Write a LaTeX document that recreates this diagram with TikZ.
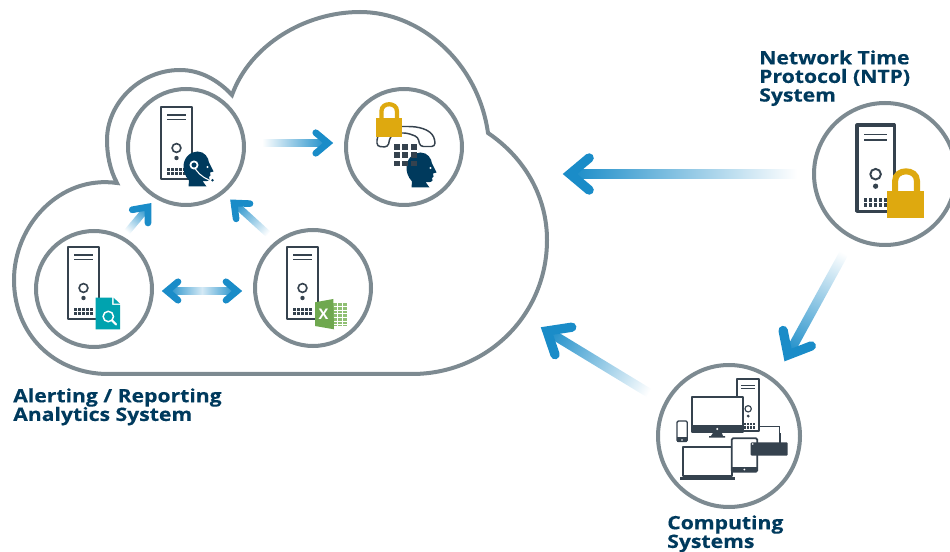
\documentclass[tikz,border=0pt]{standalone}
\usepackage{fontspec}
\setmainfont{Open Sans}
\newfontfamily\capfont[FakeStretch=1.15,BoldFeatures={FakeBold=0.3}]{Open Sans}
\usetikzlibrary{calc}
\definecolor{ringc}{HTML}{7D8A91}
\definecolor{slate}{HTML}{35424E}
\definecolor{navy}{HTML}{003A5D}
\definecolor{gold}{HTML}{DEA90F}
\definecolor{teal1}{HTML}{00A3AF}
\definecolor{xgreen}{HTML}{6FA84F}
\definecolor{xlight}{HTML}{8FBF72}
\definecolor{flow}{HTML}{1A8CC8}
\definecolor{flowpale}{HTML}{D4E9F5}
\tikzset{
  x=0.75pt,y=-0.75pt,
  ring/.style={circle,draw=ringc,line width=3pt,fill=white,minimum size=87pt,inner sep=0pt},
  bigring/.style={ring,minimum size=106.5pt},
  caption/.style={anchor=north west,inner sep=0pt,align=left,text=navy,font=\capfont\bfseries\fontsize{13.8}{14}\selectfont},
  barb/.style={draw=flow,line cap=round,line join=miter,line width=#1},
  dev/.style={draw=slate,fill=white,line join=round},
}
% shaded shaft between two named points; #3 half width in pt, #4 and #5 shading colours
\newcommand\flowshaft[5]{%
  \path let \p1=($(#2)-(#1)$),\n1={atan2(\y1,\x1)},\n2={veclen(\x1,\y1)} in
    \pgfextra{\xdef\fang{\n1}\xdef\flen{\n2}};
  \shade[transform canvas={shift={($(#1)!.5!(#2)$)},rotate=\fang},left color=#4,right color=#5]
    ({-0.5*\flen},{-#3}) rectangle ({0.5*\flen},{#3});
}
% gradient arrow: a, b, half width, head length px, line width
\newcommand\flowarrow[5]{%
  \flowshaft{#1}{#2}{#3}{white}{flow}
  \draw[barb=#5] ($(#2)!#4*0.75pt!40:(#1)$) -- (#2) -- ($(#2)!#4*0.75pt!-40:(#1)$);
}
\newcommand\serverat[3]{%
\begin{scope}[shift={(#1,#2)},scale=#3]
  \draw[dev,line width=#3*1.9pt] (0,0) rectangle (31,72);
  \draw[slate,line width=#3*1.1pt] (6,8) -- (25,8) (6,12.5) -- (25,12.5);
  \draw[slate,line width=#3*1.2pt] (15.5,41) circle (4.4);
  \fill[slate] (15.5,51) circle (2.2);
  \foreach \i in {0,...,4}\foreach \j in {0,1}{\fill[slate] (5.5+\i*4.2,61+\j*4.4) rectangle +(3.1,3.1);}
\end{scope}}
\newcommand\padlock[3]{%
\begin{scope}[shift={(#1,#2)},scale=#3]
  \draw[gold,line width=#3*3.2pt] (5.5,19) -- (5.5,7) .. controls (5.5,-2) and (20.9,-2) .. (20.9,7) -- (20.9,19);
  \fill[gold] (0,14) rectangle (26,33);
\end{scope}}
\newcommand\headat[2]{%
\begin{scope}[shift={(#1,#2)}]
  \fill[navy] (5,35) -- (5.5,29) .. controls (1,24) and (0,19) .. (0,15) .. controls (0,6) and (7,0) .. (14,0)
    .. controls (21,0) and (25,6) .. (25.5,11) -- (30,20) -- (26.5,21) -- (27,24) -- (25.5,25.5) -- (26,28)
    .. controls (25,30) and (21,30) .. (19,29.5) -- (23,35) -- cycle;
  \fill[white] (24,15.5) circle (1.1);
\end{scope}}
\begin{document}
\begin{tikzpicture}
\useasboundingbox (0,0) rectangle (950,552);
% cloud
\draw[ringc,line width=3pt,line join=miter,miter limit=10]
  (117,183) .. controls (60,175) and (14,225) .. (14,280)
  .. controls (14,335) and (55,374) .. (108,374) -- (412,374)
  .. controls (487,374) and (547,315) .. (547,240)
  .. controls (547,197) and (525,158) .. (488,133)
  .. controls (478,62) and (420,12) .. (360,12)
  .. controls (305,12) and (250,45) .. (232,95)
  .. controls (218,80) and (200,70) .. (180,70)
  .. controls (140,70) and (107,103) .. (107,140)
  .. controls (107,155) and (110,170) .. (117,183) -- cycle;
% rings
\node[ring] (agent) at (186,147) {};
\node[ring] (phone) at (404,147) {};
\node[ring] (search) at (94,289) {};
\node[ring] (excel) at (313,288) {};
\node[bigring] (ntp) at (885,174) {};
\node[bigring] (comp) at (729,436) {};
% arrow ends
\coordinate (a1) at (262,143); \coordinate (a2) at (328,143);
\coordinate (b1) at (127,232); \coordinate (b2) at (148,207);
\coordinate (c1) at (268,234); \coordinate (c2) at (234,203);
\coordinate (d1) at (797,174); \coordinate (d2) at (570,174);
\coordinate (e1) at (844,253); \coordinate (e2) at (788,355);
\coordinate (f1) at (649,393); \coordinate (f2) at (547,331);
\coordinate (g1) at (167,291); \coordinate (g2) at (237,291);
\flowarrow{a1}{a2}{2.6pt}{16}{5pt}
\flowarrow{b1}{b2}{2.6pt}{16}{5pt}
\flowarrow{c1}{c2}{2.6pt}{16}{5pt}
\flowarrow{d1}{d2}{3.5pt}{25}{7pt}
\flowarrow{e1}{e2}{3.5pt}{25}{7pt}
\flowarrow{f1}{f2}{3.5pt}{25}{7pt}
% double arrow
\shade[left color=flow,right color=flow,middle color=flowpale] (g1) ++(0,-3.6) rectangle ($(g2)+(0,3.6)$);
\draw[barb=5pt] ($(g1)!14.4*0.75pt!40:(g2)$) -- (g1) -- ($(g1)!14.4*0.75pt!-40:(g2)$);
\draw[barb=5pt] ($(g2)!14.4*0.75pt!40:(g1)$) -- (g2) -- ($(g2)!14.4*0.75pt!-40:(g1)$);
% agent
\serverat{161}{107}{1}
\headat{183.5}{151.5}
\draw[white,line width=0.8pt] (193.5,165) .. controls (196,172) and (202,177) .. (209,180);
\draw[white,line width=1.3pt,fill=navy] (194,165) circle (3.6);
\fill[navy] (212.5,180.3) circle (1.4);
% phone
\draw[slate,line width=1.1pt,line join=round,rounded corners=2.5pt]
  (390,137) -- (388,147) -- (377,146.5) -- (377,137) .. controls (384,128) and (395,126.5) .. (405,126.5)
  .. controls (418,126.5) and (430,129) .. (435,140) -- (435,146.5) -- (420,146.5) -- (418,137) -- (407,133) -- (395,133) -- cycle;
\padlock{376}{104}{1}
\headat{406.5}{152.5}
\foreach \i in {0,1,2}\foreach \j in {0,1,2}{\fill[slate] (394+\i*8.4,144+\j*8.4) rectangle +(5.7,5.7);}
% search doc
\serverat{68}{247}{1}
\fill[teal1] (95.7,297.7) -- (112,297.7) -- (112,305) -- (120,305) -- (120,329.5) -- (95.7,329.5) -- cycle;
\fill[teal1] (113.5,297.7) -- (120,303.7) -- (113.5,303.7) -- cycle;
\draw[white,line width=1.1pt] (108.3,316.5) circle (5.2);
\draw[white,line width=1.6pt,line cap=round] (112.2,320.5) -- (116,324.5);
% excel
\serverat{287}{247}{1}
\fill[xlight] (333,302.7) rectangle (346.7,326);
\draw[white,line width=.5pt] (337.5,302.7) -- (337.5,326) (342,302.7) -- (342,326);
\foreach \k in {0,...,5}{\draw[white,line width=.5pt] (334,306.5+\k*3.6) -- (346.7,306.5+\k*3.6);}
\fill[xgreen] (315,302.3) -- (333.3,299) -- (334,329.3) -- (315,326) -- cycle;
\node[text=white,inner sep=0pt,font=\bfseries\fontsize{11}{11}\selectfont] (xmark) at (323.5,314) {X};
% ntp
\serverat{857}{125}{1.2}
\padlock{887.3}{171}{1.42}
% computing systems
\serverat{737}{379.3}{0.72}
\draw[dev,line width=1.4pt] (691.7,397.3) rectangle (743.3,431.7);
\fill[slate] (691,425) rectangle (744,432.4);
\fill[white] (717.3,429) circle (1.1);
\fill[slate] (713.5,432) -- (721.5,432) -- (723,436) -- (725,436) -- (725,437.5) -- (709,437.5) -- (709,436) -- (711,436) -- cycle;
\draw[dev,line width=1pt,rounded corners=1pt] (677,421) rectangle (687.3,441.5);
\fill[slate] (677,437) rectangle (687.3,441.5);
\fill[white] (682,440) circle (.8);
\draw[dev,line width=1.3pt] (682.7,447.3) rectangle (732.3,476);
\fill[slate] (680,477) rectangle (735,479.5);
\draw[dev,line width=1.4pt,rounded corners=1pt] (731.7,438.3) rectangle (757.3,471.7);
\fill[slate] (731.7,467) rectangle (757.3,471.7);
\fill[white] (744.3,469.5) circle (1);
\draw[slate,line width=.6pt] (759.3,426.7) -- (779.3,426.7) -- (779.3,443);
\draw[slate,line width=1pt] (780.7,433) -- (780.7,443);
\fill[slate,rounded corners=.8pt] (750.7,442.3) rectangle (787.7,455.7);
\fill[white] (752.7,444) circle (.8);
% captions
\node[caption] (ntplabel) at (759,50) {Network Time\\Protocol (NTP)\\System};
\node[caption] (alertlabel) at (13,388) {Alerting / Reporting\\Analytics System};
\node[caption] (complabel) at (667,515) {Computing\\Systems};
\end{tikzpicture}
\end{document}
